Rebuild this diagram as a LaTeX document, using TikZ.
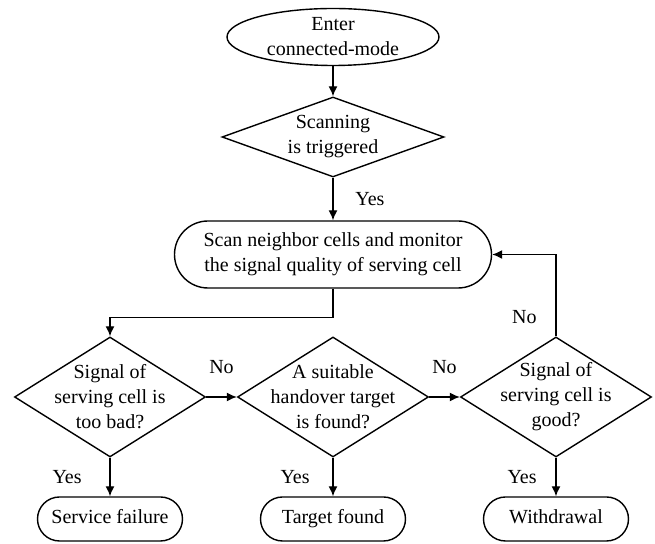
\documentclass[tikz,border=0pt]{standalone}
\usepackage{fontspec}
\setmainfont{Liberation Serif}
\usetikzlibrary{positioning, shapes.geometric, arrows.meta}

\begin{document}
\begin{tikzpicture}[x=0.5pt,y=-0.5pt,on grid,auto,line width=0.7pt,
  >={Latex[length=5pt,width=4.5pt]},
  every node/.style={font=\fontsize{10pt}{12.5pt}\selectfont},
  start/.style={ellipse,draw,inner sep=0pt,minimum width=106pt,minimum height=28.5pt},
  decision/.style={diamond,draw,inner sep=0pt,minimum width=95.5pt,minimum height=60pt},
  process/.style={rectangle,draw,rounded corners=16.75pt,align=center,minimum width=158.5pt,minimum height=33.5pt},
  term/.style={rectangle,draw,rounded corners=11pt,text height=7pt,text depth=2pt,minimum width=72.5pt,minimum height=22pt}]
\useasboundingbox (0,0) rectangle (655,544);

\node[start,label={[align=center]center:{Enter\\connected-mode}}] (enter) at (333,37) {};
\node[decision,minimum width=111pt,minimum height=40pt,
      label={[align=center]center:{Scanning\\is triggered}}] (scanq) [below=50pt of enter] {};
\node[process] (scan) [below=58.75pt of scanq] {Scan neighbor cells and monitor\\the signal quality of serving cell};
\node[decision,label={[align=center]center:{A suitable\\handover target\\is found?}}] (found) [below=71.25pt of scan] {};
\node[decision,label={[align=center]center:{Signal of\\serving cell is\\too bad?}}] (bad) [left=111.5pt of found] {};
\node[decision,label={[align=center]center:{Signal of\\serving cell is\\good?}}] (good) [right=111.5pt of found] {};
\node[term] (fail) [below=61pt of bad] {Service failure};
\node[term] (target) [below=61pt of found] {Target found};
\node[term] (withdraw) [below=61pt of good] {Withdrawal};

\path[->]
(enter) edge (scanq)
(scanq) edge node[right=7.5pt] {Yes} (scan)
(bad)   edge node[left=10.5pt] {Yes} (fail)
        edge node[above=8pt] {No} (found)
(found) edge node[left=8pt] {Yes} (target)
        edge node[above=8pt] {No} (good)
(good)  edge node[left=6pt] {Yes} (withdraw);

\draw[->] (scan.south) -- ++(0,29) -| (bad.north);
\draw[->] (good.north) |- node[left=6pt,pos=0.12] {No} (scan.east);
\end{tikzpicture}
\end{document}
